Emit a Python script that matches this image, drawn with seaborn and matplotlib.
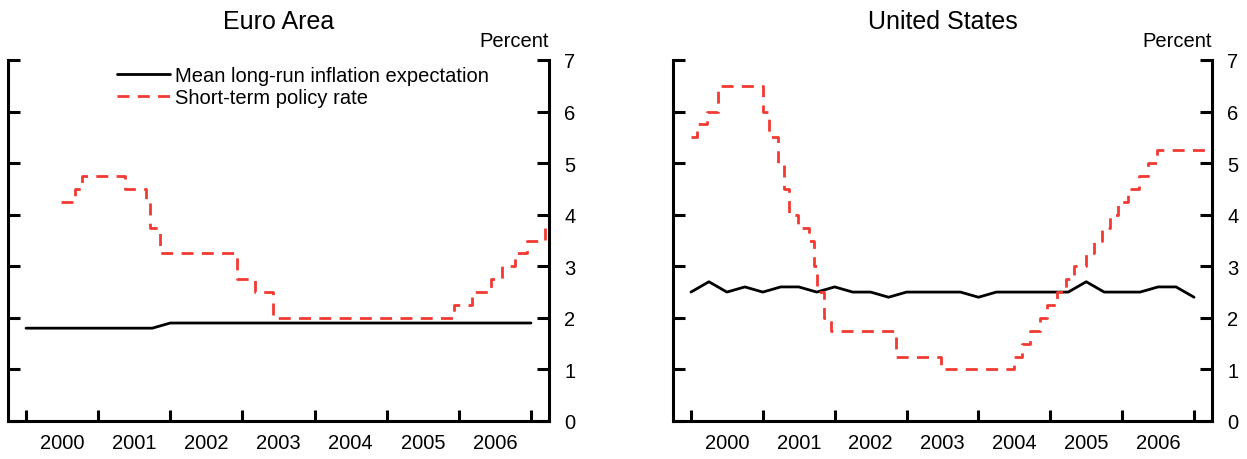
import numpy as np
import pandas as pd
import matplotlib
matplotlib.use("Agg")
import matplotlib.pyplot as plt
import seaborn as sns

# policy rates: date of each change and the new rate (last entry = end of sample)
ea_rate_dates = ["2000-06-28", "2000-09-06", "2000-10-11", "2001-05-15", "2001-08-31",
                 "2001-09-18", "2001-11-09", "2002-12-06", "2003-03-07", "2003-06-06",
                 "2005-12-06", "2006-03-08", "2006-06-15", "2006-08-09", "2006-10-11",
                 "2006-12-13", "2007-03-14", "2007-03-31"]
ea_rate = [4.25, 4.5, 4.75, 4.5, 4.25, 3.75, 3.25, 2.75, 2.5, 2.0,
           2.25, 2.5, 2.75, 3.0, 3.25, 3.5, 3.75, 3.75]

us_rate_dates = ["2000-01-01", "2000-02-02", "2000-03-21", "2000-05-16", "2001-01-03",
                 "2001-01-31", "2001-03-20", "2001-04-18", "2001-05-15", "2001-06-27",
                 "2001-08-21", "2001-09-17", "2001-10-02", "2001-11-06", "2001-12-11",
                 "2002-11-06", "2003-06-25", "2004-06-30", "2004-08-10", "2004-09-21",
                 "2004-11-10", "2004-12-14", "2005-02-02", "2005-03-22", "2005-05-03",
                 "2005-06-30", "2005-08-09", "2005-09-20", "2005-11-01", "2005-12-13",
                 "2006-01-31", "2006-03-28", "2006-05-10", "2006-06-29", "2007-03-31"]
us_rate = [5.5, 5.75, 6.0, 6.5, 6.0, 5.5, 5.0, 4.5, 4.0, 3.75,
           3.5, 3.0, 2.5, 2.0, 1.75, 1.25, 1.0, 1.25, 1.5, 1.75,
           2.0, 2.25, 2.5, 2.75, 3.0, 3.25, 3.5, 3.75, 4.0, 4.25,
           4.5, 4.75, 5.0, 5.25, 5.25]

# quarterly survey of long-run inflation expectations, 2000Q1 - 2007Q1
quarters = pd.period_range("2000Q1", "2007Q1", freq="Q")
ea_expect = [1.8, 1.8, 1.8, 1.8, 1.8, 1.8, 1.8, 1.8,
             1.9, 1.9, 1.9, 1.9, 1.9, 1.9, 1.9, 1.9,
             1.9, 1.9, 1.9, 1.9, 1.9, 1.9, 1.9, 1.9,
             1.9, 1.9, 1.9, 1.9, 1.9]
us_expect = [2.5, 2.7, 2.5, 2.6, 2.5, 2.6, 2.6, 2.5,
             2.6, 2.5, 2.5, 2.4, 2.5, 2.5, 2.5, 2.5,
             2.4, 2.5, 2.5, 2.5, 2.5, 2.5, 2.7, 2.5,
             2.5, 2.5, 2.6, 2.6, 2.4]

years = ["2000", "2001", "2002", "2003", "2004", "2005", "2006"]
titles = ["Euro Area", "United States"]
labels = ["Mean long-run inflation expectation", "Short-term policy rate"]

RED = "#f23a33"
FS = 14.5


def decimal_year(dates):
    d = pd.to_datetime(pd.Series(dates))
    return (d.dt.year + (d.dt.dayofyear - 1) / (365 + d.dt.is_leap_year.astype(int))).values


qx = quarters.year + (quarters.quarter - 1) / 4

sns.set_theme(style="ticks")
plt.rcParams["font.family"] = ["Liberation Sans", "DejaVu Sans"]
plt.rcParams["text.color"] = "black"
plt.rcParams["xtick.color"] = "black"
plt.rcParams["ytick.color"] = "black"
plt.rcParams["axes.edgecolor"] = "black"

fig = plt.figure(figsize=(12.47, 4.6), dpi=100)
ax1 = fig.add_axes([8 / 1247, 38 / 460, 541 / 1247, 361 / 460])
ax2 = fig.add_axes([673 / 1247, 38 / 460, 539 / 1247, 361 / 460])

panels = [(ax1, ea_expect, ea_rate_dates, ea_rate), (ax2, us_expect, us_rate_dates, us_rate)]

for i, (ax, expect, rdates, rate) in enumerate(panels):
    sns.lineplot(x=qx, y=expect, ax=ax, color="black", linewidth=2.0, label=labels[0])
    sns.lineplot(x=decimal_year(rdates), y=rate, ax=ax, color=RED, linewidth=2.0,
                 drawstyle="steps-post", linestyle=(0, (4.3, 3.0)), label=labels[1])

    ax.set_xlim(1999.75, 2007.25)
    ax.set_ylim(0, 7)

    # year boundaries get tick marks, labels sit mid-year
    ax.set_xticks(range(2000, 2008))
    ax.set_xticklabels([])
    ax.set_xticks(np.arange(2000.5, 2007, 1.0), minor=True)
    ax.set_xticklabels(years, minor=True, fontsize=FS)
    ax.tick_params(axis="x", which="major", direction="in", length=8, width=2.2, bottom=True, top=False)
    ax.tick_params(axis="x", which="minor", length=0, pad=9, labelcolor="black")

    ax.set_yticks(range(0, 8))
    ax.set_yticks([7], minor=True)
    ax.tick_params(axis="y", which="both", direction="in", left=True, right=True,
                   labelleft=False, labelright=True, width=2.2, labelsize=FS, pad=11,
                   labelcolor="black")
    ax.tick_params(axis="y", which="major", length=8.5)
    ax.tick_params(axis="y", which="minor", length=16.5)

    sns.despine(ax=ax, top=True, right=False, left=False, bottom=False)
    for side in ["left", "right", "bottom"]:
        ax.spines[side].set_linewidth(2.2)
        ax.spines[side].set_color("black")

    ax.set_xlabel("")
    ax.set_ylabel("")
    ax.set_title(titles[i], fontsize=18, pad=23, color="black")
    ax.annotate("Percent", xy=(1, 1), xycoords="axes fraction", xytext=(0, 10),
                textcoords="offset points", ha="right", va="baseline", fontsize=FS,
                color="black")

    if i == 0:
        leg = ax.legend(loc="upper left", bbox_to_anchor=(0.2015, 0.983), frameon=False,
                        fontsize=FS, handlelength=2.65, handletextpad=0.25, labelspacing=0.15,
                        borderpad=0, borderaxespad=0)
        for t in leg.get_texts():
            t.set_color("black")
    else:
        ax.get_legend().remove()

fig.savefig("out.png", dpi=100)
